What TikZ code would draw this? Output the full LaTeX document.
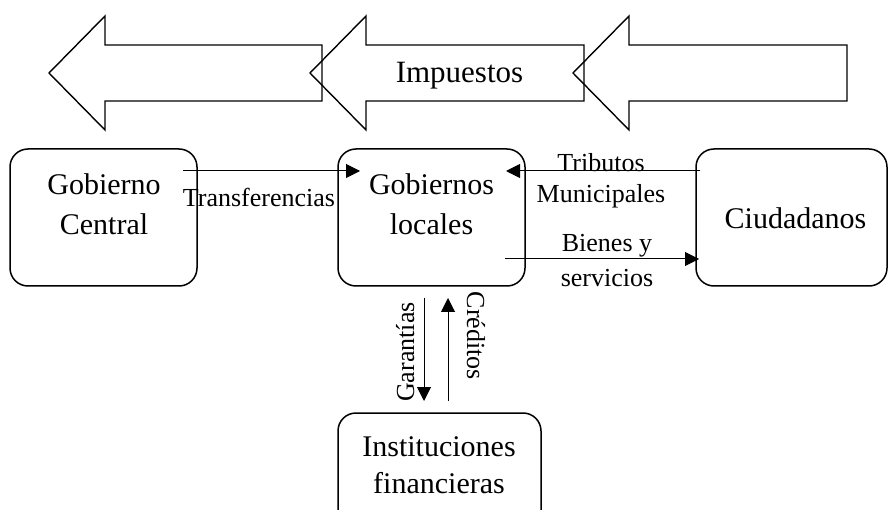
\documentclass[tikz,border=0pt]{standalone}
\usepackage{fontspec}
\setmainfont{Liberation Serif}
\usetikzlibrary{arrows.meta}
\tikzset{
  box/.style={draw, line width=1.5pt, rounded corners=18pt, inner sep=0pt},
  boxtxt/.style={font=\fontsize{30}{40}\selectfont, anchor=base, align=center, inner sep=0pt},
  lbl/.style={font=\fontsize{26}{31}\selectfont, anchor=base, align=center, inner sep=0pt},
  conn/.style={line width=1pt, -{Triangle[length=14pt,width=14pt]}},
  bigarrow/.style={draw, line width=1.4pt, line join=miter},
}
\begin{document}
\begin{tikzpicture}[x=1pt,y=-1pt]
\useasboundingbox (0,0) rectangle (888,510);
\clip (0,0) rectangle (888,510);
% big arrows
\draw[bigarrow] (49,73) -- (105,16) -- (105,45) -- (322,45) -- (322,101) -- (105,101) -- (105,130) -- cycle;
\draw[bigarrow] (310,73) -- (366,16) -- (366,45) -- (584,45) -- (584,101) -- (366,101) -- (366,130) -- cycle;
\draw[bigarrow] (573,73) -- (629,16) -- (629,45) -- (847,45) -- (847,101) -- (629,101) -- (629,130) -- cycle;
\node[boxtxt, font=\fontsize{31}{40}\selectfont] (imp) at (459.5,83) {Impuestos};
% boxes
\node[box, minimum width=187pt, minimum height=137pt] (gc) at (103.5,217.5) {};
\node[box, minimum width=187pt, minimum height=137pt] (gl) at (431.5,217.5) {};
\node[box, minimum width=191pt, minimum height=137pt] (ci) at (791.5,217.5) {};
\node[box, minimum width=203pt, minimum height=130pt] (if) at (439.5,478) {};
\node[boxtxt] (gct) at (104,235) {Gobierno\\Central};
\node[boxtxt] (glt) at (431.5,235) {Gobiernos\\locales};
\node[boxtxt] (cit) at (795.5,229) {Ciudadanos};
\node[boxtxt, font=\fontsize{30}{37}\selectfont] (ift) at (439,493) {Instituciones\\financieras};
% connectors
\coordinate (t1) at (183,171);
\coordinate (t2) at (360,171);
\coordinate (r1) at (700,171);
\coordinate (r2) at (506,171);
\coordinate (b1) at (505,259);
\coordinate (b2) at (699,259);
\coordinate (g1) at (424,298);
\coordinate (g2) at (424,401);
\coordinate (c1) at (448,401);
\coordinate (c2) at (448,298);
\draw[conn] (t1) -- (t2);
\draw[conn] (r1) -- (r2);
\draw[conn] (b1) -- (b2);
\draw[conn] (g1) -- (g2);
\draw[conn] (c1) -- (c2);
% labels
\node[lbl] (ltr) at (259,207) {Transferencias};
\node[lbl] (ltm) at (601,203) {Tributos\\Municipales};
\node[lbl, font=\fontsize{26}{35}\selectfont] (lbs) at (607,287) {Bienes y\\servicios};
\node[lbl, rotate=90, anchor=base] (lga) at (414,352) {Garantías};
\node[lbl, rotate=-90, anchor=base] (lcr) at (467,336) {Créditos};
\end{tikzpicture}
\end{document}
